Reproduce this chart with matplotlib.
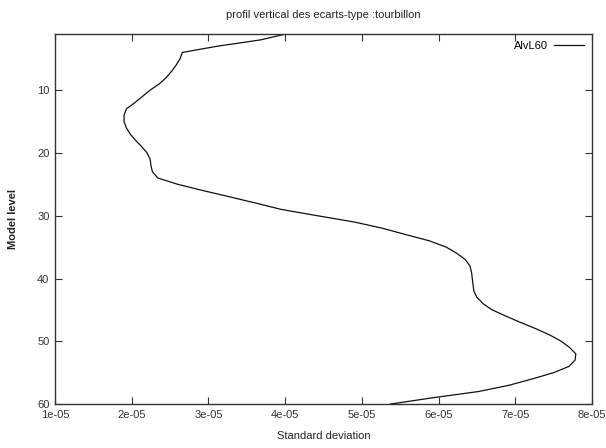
import matplotlib
matplotlib.use("Agg")
import matplotlib.pyplot as plt
from matplotlib.ticker import FixedLocator, FuncFormatter

# Vertical profile of vorticity standard deviation per model level
levels = list(range(1, 61))
std_dev = [4.03e-05, 3.68e-05, 3.12e-05, 2.66e-05, 2.63e-05, 2.58e-05, 2.52e-05, 2.45e-05,
           2.36e-05, 2.24e-05, 2.14e-05, 2.04e-05, 1.93e-05, 1.90e-05, 1.90e-05, 1.93e-05,
           1.98e-05, 2.05e-05, 2.13e-05, 2.20e-05, 2.24e-05, 2.25e-05, 2.27e-05, 2.34e-05,
           2.60e-05, 2.93e-05, 3.28e-05, 3.62e-05, 3.95e-05, 4.42e-05, 4.90e-05, 5.27e-05,
           5.57e-05, 5.88e-05, 6.10e-05, 6.24e-05, 6.35e-05, 6.41e-05, 6.43e-05, 6.44e-05,
           6.45e-05, 6.46e-05, 6.50e-05, 6.58e-05, 6.70e-05, 6.88e-05, 7.07e-05, 7.27e-05,
           7.45e-05, 7.60e-05, 7.71e-05, 7.79e-05, 7.78e-05, 7.70e-05, 7.50e-05, 7.22e-05,
           6.92e-05, 6.52e-05, 5.92e-05, 5.37e-05]

x_ticks = [1e-05, 2e-05, 3e-05, 4e-05, 5e-05, 6e-05, 7e-05, 8e-05]
y_ticks = [10, 20, 30, 40, 50, 60]
series_name = "AlvL60"

plt.rcParams["font.family"] = ["Liberation Sans", "DejaVu Sans"]

fig = plt.figure(figsize=(6.06, 4.48), dpi=100)
ax = fig.add_axes([0.0908, 0.098, 0.886, 0.827])

ax.plot(std_dev, levels, color="#111111", linewidth=0.9, label=series_name)

ax.set_xlim(1e-05, 8e-05)
ax.set_ylim(60, 1)
ax.xaxis.set_major_locator(FixedLocator(x_ticks))
ax.xaxis.set_major_formatter(FuncFormatter(lambda v, p: f"{v:.0e}"))
ax.yaxis.set_major_locator(FixedLocator(y_ticks))

ax.tick_params(direction="in", top=True, right=True, length=5, width=0.8,
               labelsize=8, colors="#333333", pad=4)
for s in ax.spines.values():
    s.set_color("#333333")
    s.set_linewidth(1.0)

ax.set_title("profil vertical des ecarts-type :tourbillon", fontsize=8, color="#222222", pad=11)
ax.set_xlabel("Standard deviation", fontsize=8, color="#222222", labelpad=8)
ax.set_ylabel("Model level", fontsize=8, fontweight="bold", color="#222222", labelpad=14)

ax.legend(loc="upper right", frameon=False, markerfirst=False, fontsize=8,
          handlelength=2.7, borderaxespad=0.3, handletextpad=0.6)

fig.savefig("out.png", dpi=100, facecolor="white")
